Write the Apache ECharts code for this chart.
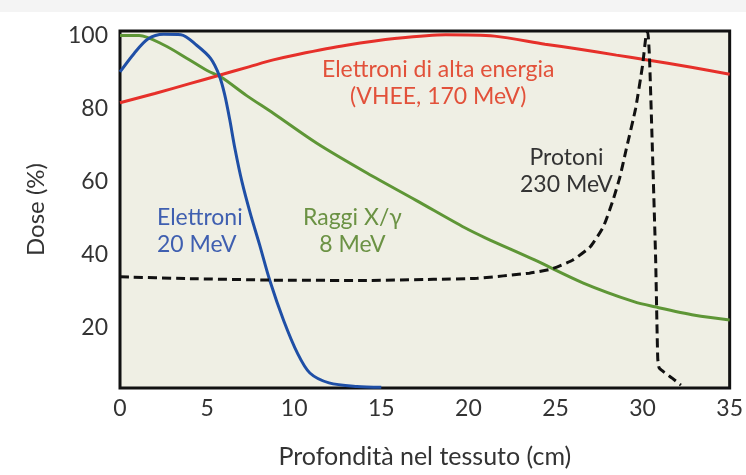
<!DOCTYPE html>
<html>
<head>
<meta charset="utf-8">
<script src="https://cdn.jsdelivr.net/npm/echarts@6/dist/echarts.min.js"></script>
<style>
  html, body { margin: 0; padding: 0; background: #fff; }
  #chart { width: 746px; height: 475px; }
</style>
</head>
<body>
<div id="chart"></div>
<script>
// depth (cm) / dose (%)
const vheeData = [
  [0, 81.6], [2, 84.1], [4, 86.8], [5.7, 89.1], [7.4, 91.4], [8.8, 93.3], [10.2, 94.8],
  [13, 97.3], [15.9, 99.2], [18.7, 100.2], [21.5, 99.8], [24.4, 97.6], [26.3, 96.3],
  [28.5, 94.6], [30.1, 93.4], [32.8, 91.3], [35, 89.4]
];
const electronData = [
  [0, 90], [0.8, 95], [1.6, 99], [2.5, 100.3], [3.5, 100.2], [4.4, 97.3], [5.2, 93.7],
  [5.7, 89], [6.0, 84], [6.3, 77], [6.6, 69], [7.0, 60], [7.5, 51], [8.0, 43], [8.6, 33],
  [9.4, 22], [10.2, 13], [10.9, 7.7], [12, 5], [13.6, 4], [15, 3.8]
];
const xrayData = [
  [0, 100], [1.1, 100], [2.55, 97.3], [3.85, 93.7], [5, 90.4], [5.8, 88.6], [7.25, 83.6],
  [8.8, 78.7], [11.3, 70.5], [14.2, 62.3], [17, 54.9], [19.8, 47.4], [21, 44.6],
  [23.8, 38.6], [26.6, 32.3], [29.5, 27.2], [30.7, 25.8], [33, 23.5], [35, 22.2]
];
const protonData = [
  [0, 34], [4, 33.5], [8.6, 33.1], [14, 33], [18, 33.3], [20.5, 33.6], [23.5, 35],
  [24.75, 36.1], [26, 38.6], [27, 42.2], [27.75, 47.7], [28.3, 54.9], [28.7, 61.3],
  [29.05, 68.6], [29.6, 80], [30, 91.8], [30.2, 100], [30.3, 100.9], [30.4, 93.7],
  [30.58, 66.4], [30.75, 39], [30.87, 11.8], [30.96, 9], [31.7, 6.3], [32.2, 4.4]
];
const yTickValues = [20, 40, 60, 80, 100];

const font = 'Lato, "Noto Sans", sans-serif';
const chart = echarts.init(document.getElementById('chart'));

function lineSeries(name, data, color, extra) {
  return Object.assign({
    name: name,
    type: 'line',
    data: data,
    symbol: 'none',
    smooth: 0.3,
    lineStyle: { color: color, width: 3 },
    z: 3
  }, extra || {});
}

function label(text, left, top, color, align) {
  return {
    type: 'text',
    left: left,
    top: top,
    style: {
      text: text,
      fill: color,
      font: '23px ' + font,
      textAlign: align || 'center',
      lineHeight: 27
    },
    z: 10
  };
}

const option = {
  backgroundColor: '#fff',
  animation: false,
  grid: {
    left: 120,
    right: 8,
    top: 31,
    bottom: 87,
    show: true,
    backgroundColor: '#efefe4',
    borderColor: '#111',
    borderWidth: 3
  },
  xAxis: {
    type: 'value',
    min: 0,
    max: 35,
    interval: 5,
    name: 'Profondità nel tessuto (cm)',
    nameLocation: 'middle',
    nameGap: 56,
    nameTextStyle: { fontFamily: font, fontSize: 25, color: '#333' },
    axisLine: { show: false },
    axisTick: { show: false },
    splitLine: { show: false },
    axisLabel: { fontFamily: font, fontSize: 23, color: '#333', margin: 9 }
  },
  yAxis: {
    type: 'value',
    min: 3.6,
    max: 101.2,
    name: 'Dose (%)',
    nameLocation: 'middle',
    nameGap: 72,
    nameTextStyle: { fontFamily: font, fontSize: 24, color: '#333' },
    axisLine: { show: false },
    axisTick: { show: false },
    splitLine: { show: false },
    axisLabel: {
      fontFamily: font, fontSize: 23, color: '#333', margin: 12,
      customValues: yTickValues
    }
  },
  graphic: [
    { type: 'rect', shape: { x: 0, y: 0, width: 746, height: 12 }, style: { fill: '#f4f4f4' }, z: 0 },
    label('Elettroni di alta energia\n(VHEE, 170 MeV)', 322, 56, '#e2513a', 'center'),
    label('Protoni\n230 MeV', 520, 144, '#333', 'center'),
    label('Elettroni\n20 MeV', 157, 204, '#3f5fb0', 'left'),
    label('Raggi X/γ\n8 MeV', 303, 204, '#6b9244', 'center')
  ],
  series: [
    lineSeries('Raggi X/γ 8 MeV', xrayData, '#5e9636'),
    lineSeries('Elettroni di alta energia (VHEE, 170 MeV)', vheeData, '#e6302a'),
    lineSeries('Elettroni 20 MeV', electronData, '#1f4fa6'),
    lineSeries('Protoni 230 MeV', protonData, '#111', {
      smooth: 0.15,
      lineStyle: { color: '#111', width: 3, type: [9, 5] }
    })
  ]
};

chart.setOption(option);
</script>
</body>
</html>
